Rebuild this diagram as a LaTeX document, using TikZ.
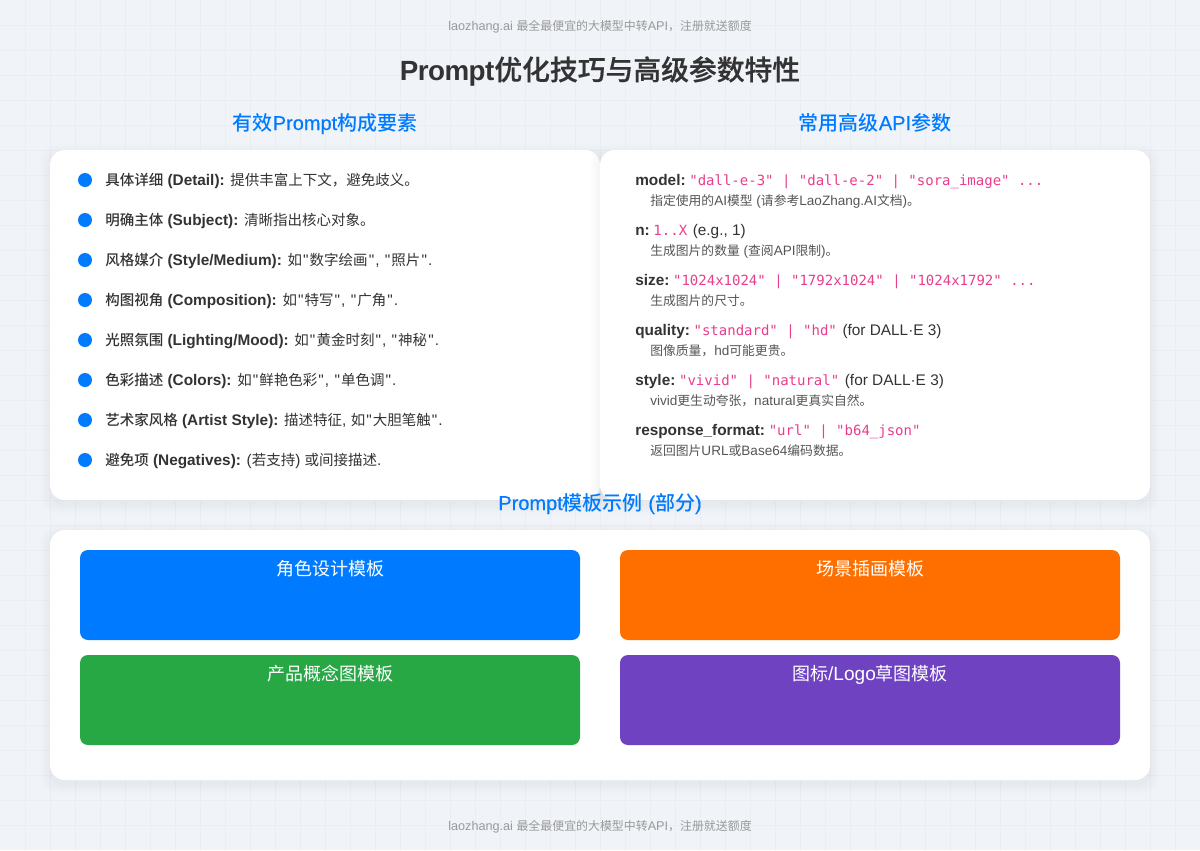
\documentclass[tikz,border=0pt]{standalone}
\usepackage{fontspec}
\setmainfont{Liberation Sans}[Scale=1.06, Ligatures=TeXOff]
\setmonofont{DejaVu Sans Mono}
\newfontfamily\cjk{Noto Sans CJK SC}[BoldFont={Noto Sans CJK SC Medium}]
\newfontfamily\cjkm{Noto Sans CJK SC Medium}
\newfontfamily\cjkt{Noto Sans CJK SC Medium}[FakeBold=0.6]
\newfontfamily\headlat{Liberation Sans}[FakeBold=0.35]
\newfontfamily\titlelat{Liberation Sans}[LetterSpace=-2]
\newcommand{\zh}[1]{{\cjk #1}}
\newcommand{\zhm}[1]{{\cjkm #1}}
\newcommand{\dq}{\kern.8pt"\kern.8pt\relax}
\definecolor{bgcol}{HTML}{F0F4F8}
\definecolor{gridcol}{HTML}{EAEEF3}
\definecolor{bluecol}{HTML}{007BFF}
\definecolor{orangecol}{HTML}{FF6F00}
\definecolor{greencol}{HTML}{28A745}
\definecolor{purplecol}{HTML}{6F42C1}
\definecolor{pinkcol}{HTML}{E83E8C}
\definecolor{inkcol}{HTML}{333333}
\definecolor{desccol}{HTML}{555555}
\definecolor{notecol}{HTML}{999999}
\newcommand{\code}[1]{\kern-1.5pt\textcolor{pinkcol}{\ttfamily\fontsize{10.5pt}{13pt}\selectfont #1}\kern1pt\relax}
\tikzset{
	panel/.style={fill=white, rounded corners=11.25pt},
	note/.style={anchor=base, text=notecol, font=\fontsize{8.95pt}{11pt}\selectfont},
	heading/.style={anchor=base, text=bluecol, font=\fontsize{15pt}{18pt}\selectfont\headlat},
	dot/.style={circle, fill=bluecol, inner sep=0pt, minimum size=10.5pt},
	item/.style={anchor=base west, inner sep=0pt, text=inkcol, font=\fontsize{10.875pt}{14pt}\selectfont},
	desc/.style={anchor=base west, inner sep=0pt, text=desccol, font=\fontsize{9.6pt}{12pt}\selectfont},
	tplbox/.style={rounded corners=6pt, minimum width=375pt, minimum height=67.5pt, inner sep=0pt},
	tpltitle/.style={anchor=base, text=white, font=\fontsize{13.5pt}{16pt}\selectfont},
}
\begin{document}
\begin{tikzpicture}[x=.75pt, y=-.75pt, line join=round, line cap=round]
	\useasboundingbox (0,0) rectangle (1200,850);
	% nền và lưới
	\fill[bgcol] (0,0) rectangle (1200,850);
	\foreach \i in {25,50,...,1175} \draw[gridcol, line width=.6pt] (\i,0)--(\i,850);
	\foreach \i in {25,50,...,825} \draw[gridcol, line width=.6pt] (0,\i)--(1200,\i);
	% các tấm trắng có bóng
	\foreach \xa/\ya/\xb/\yb in {50/150/600/500, 600/150/1150/500, 50/530/1150/780} {
		\foreach \s in {1,...,10}
			\fill[black, opacity=.005, rounded corners=13pt] (\xa-\s,\ya+4-\s) rectangle (\xb+\s,\yb+4+\s);
		\path[panel] (\xa,\ya) rectangle (\xb,\yb);
	}
	\node[note] (top) at (600,30) {laozhang.ai \zh{最全最便宜的大模型中转}API\zh{，注册就送额度}};
	\node[note] (bottom) at (600,830) {laozhang.ai \zh{最全最便宜的大模型中转}API\zh{，注册就送额度}};
	\node[anchor=base, text=inkcol, font=\fontsize{20.85pt}{25pt}\selectfont\titlelat\bfseries] (title) at (600,80) {Prompt{\cjkt\mdseries 优化技巧与高级参数特性}};
	\node[heading] (left) at (325,130) {\zhm{有效}Prompt\zhm{构成要素}};
	\node[heading] (right) at (875,130) {\zhm{常用高级}API\zhm{参数}};
	\node[heading] (tpl) at (600,510) {Prompt\zhm{模板示例} (\zhm{部分})};
	% danh sách bên trái
	\foreach \i in {1,...,8} \node[dot] (d\i) at (85,140+40*\i) {};
	\node[item] (i1) at (105,185) {\textbf{\zh{具体详细} (Detail):} \zh{提供丰富上下文，避免歧义。}};
	\node[item] (i2) at (105,225) {\textbf{\zh{明确主体} (Subject):} \zh{清晰指出核心对象。}};
	\node[item] (i3) at (105,265) {\textbf{\zh{风格媒介} (Style/Medium):} \zh{如}\dq\zh{数字绘画}\dq, \dq\zh{照片}\dq.};
	\node[item] (i4) at (105,305) {\textbf{\zh{构图视角} (Composition):} \zh{如}\dq\zh{特写}\dq, \dq\zh{广角}\dq.};
	\node[item] (i5) at (105,345) {\textbf{\zh{光照氛围} (Lighting/Mood):} \zh{如}\dq\zh{黄金时刻}\dq, \dq\zh{神秘}\dq.};
	\node[item] (i6) at (105,385) {\textbf{\zh{色彩描述} (Colors):} \zh{如}\dq\zh{鲜艳色彩}\dq, \dq\zh{单色调}\dq.};
	\node[item] (i7) at (105,425) {\textbf{\zh{艺术家风格} (Artist Style):} \zh{描述特征}, \zh{如}\dq\zh{大胆笔触}\dq.};
	\node[item] (i8) at (105,465) {\textbf{\zh{避免项} (Negatives):} (\zh{若支持}) \zh{或间接描述}.};
	% tham số bên phải
	\node[item] (model) at (635,185) {\textbf{model:} \code{"dall-e-3" | "dall-e-2" | "sora\_image" ...}};
	\node[desc] (modeld) at (650,205) {\zh{指定使用的}AI\zh{模型} (\zh{请参考}LaoZhang.AI\zh{文档})\zh{。}};
	\node[item] (num) at (635,235) {\textbf{n:} \code{1..X} (e.g., 1)};
	\node[desc] (numd) at (650,255) {\zh{生成图片的数量} (\zh{查阅}API\zh{限制})\zh{。}};
	\node[item] (size) at (635,285) {\textbf{size:} \code{"1024x1024" | "1792x1024" | "1024x1792" ...}};
	\node[desc] (sized) at (650,305) {\zh{生成图片的尺寸。}};
	\node[item] (qual) at (635,335) {\textbf{quality:} \code{"standard" | "hd"} (for DALL·E 3)};
	\node[desc] (quald) at (650,355) {\zh{图像质量，}hd\zh{可能更贵。}};
	\node[item] (sty) at (635,385) {\textbf{style:} \code{"vivid" | "natural"} (for DALL·E 3)};
	\node[desc] (styd) at (650,405) {vivid\zh{更生动夸张，}natural\zh{更真实自然。}};
	\node[item] (resp) at (635,435) {\textbf{response\_format:} \code{"url" | "b64\_json"}};
	\node[desc] (respd) at (650,455) {\zh{返回图片}URL\zh{或}Base64\zh{编码数据。}};
	% các ô mẫu
	\node[tplbox, fill=bluecol] (role) at (330,595) {};
	\node[tplbox, fill=orangecol] (scene) at (870,595) {};
	\node[tplbox, fill=greencol] (prod) at (330,700) {};
	\node[tplbox, fill=purplecol] (icon) at (870,700) {};
	\node[tpltitle] (roleT) at (330,575) {\zh{角色设计模板}};
	\node[tpltitle] (sceneT) at (870,575) {\zh{场景插画模板}};
	\node[tpltitle] (prodT) at (330,680) {\zh{产品概念图模板}};
	\node[tpltitle] (iconT) at (870,680) {\zh{图标}/Logo\zh{草图模板}};
\end{tikzpicture}
\end{document}
